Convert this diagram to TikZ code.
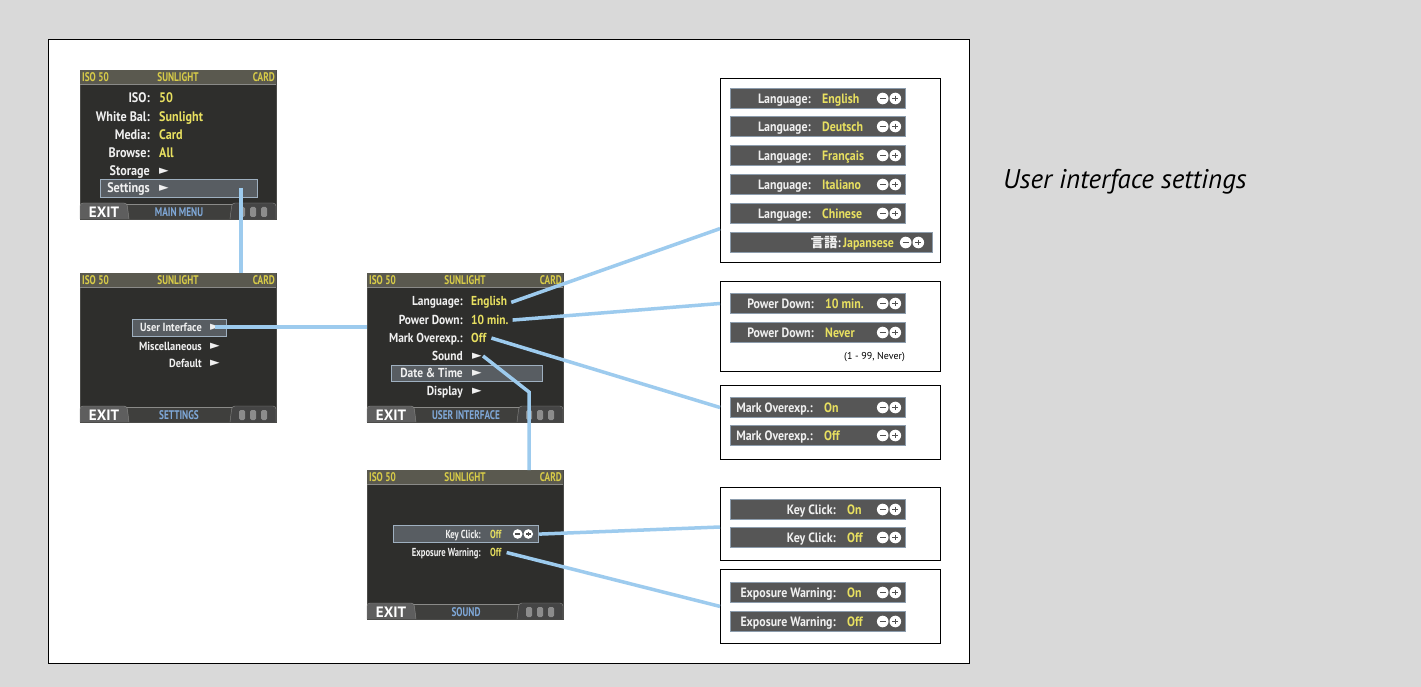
\documentclass[tikz,border=0pt]{standalone}
\usepackage{fontspec}
\setmainfont{PT Sans}
\newfontfamily\lcdfont{PT Sans}[FakeStretch=0.88]
\newfontfamily\lcdnarrow{PT Sans}[FakeStretch=0.74]
\newfontfamily\symfont{DejaVu Sans}
\newfontfamily\cjkfont{Noto Sans CJK JP}
\usetikzlibrary{calc,positioning}

\definecolor{bggray}{HTML}{D9D9D9}
\definecolor{lcddark}{HTML}{2E2E2C}
\definecolor{lcdedge}{HTML}{4A4A48}
\definecolor{topgray}{HTML}{5A594F}
\definecolor{sepgray}{HTML}{8A8A88}
\definecolor{topyellow}{HTML}{D8CC48}
\definecolor{valyellow}{HTML}{E8E060}
\definecolor{lcdwhite}{HTML}{F0F0F0}
\definecolor{footblue}{HTML}{7FA8D8}
\definecolor{tabgray}{HTML}{5E5E5E}
\definecolor{tabdark}{HTML}{454545}
\definecolor{icongray}{HTML}{8C8C8C}
\definecolor{hlfill}{HTML}{585D62}
\definecolor{hlgray}{HTML}{9FB0C0}
\definecolor{rowfill}{HTML}{565656}
\definecolor{rowedge}{HTML}{8C9CAC}
\definecolor{pmdark}{HTML}{505050}
\definecolor{linkblue}{HTML}{9DCBEE}

\newcommand\lcdtext[1]{\lcdfont\bfseries\fontsize{#1}{#1}\selectfont}
\newcommand\lcdsmall[1]{\lcdnarrow\bfseries\fontsize{#1}{#1}\selectfont}

% one camera screen: name, top-left corner, footer text
\newcommand\lcdscreen[3]{%
  \begin{scope}[shift={#2}]
    \node[lcdbody] (#1) at (0,0) {};
    \fill[topbar] (0,0) rectangle (196,14);
    \draw[sepline] (0,14.5) -- (196,14.5);
    \node[toptxt, anchor=west] at (2,7.5) {ISO 50};
    \node[toptxt] at (98,7.5) {SUNLIGHT};
    \node[toptxt, anchor=east] at (195,7.5) {CARD};
    \fill[lcdedge!60!lcddark] (0,134) rectangle (196,149);
    \draw[sepline] (46,134) -- (152,134);
    \filldraw[fill=tabgray, draw=sepgray, rounded corners=3pt] (0,149) -- (0,133) -- (47,133) -- (49,149);
    \node[exittxt] at (24,142) {EXIT};
    \node[foottxt] at (99,142) {#3};
    \filldraw[fill=tabdark, draw=sepgray, rounded corners=3pt] (150,149) -- (152,133) -- (196,133) -- (196,149);
    \foreach \ix in {162,173,184}
      \fill[icongray, rounded corners=1.5pt] (\ix-3,137) rectangle (\ix+3,147);
  \end{scope}}

% the minus / plus buttons: centre x, centre y, radius
\newcommand\minusplus[3]{%
  \fill[white] ({#1-#3-0.5},#2) circle (#3) ({#1+#3+0.5},#2) circle (#3);
  \draw[pmdark, line width=1.5pt]
    ({#1-1.5*#3-0.5},#2) -- ({#1-0.5*#3-0.5},#2)
    ({#1+0.5*#3+0.5},#2) -- ({#1+1.5*#3+0.5},#2)
    ({#1+#3+0.5},{#2-0.5*#3}) -- ({#1+#3+0.5},{#2+0.5*#3});}

% one option row: name, top y, width, label right x, label, value, buttons x
\newcommand\optrow[7]{%
  \node[optrow, minimum width=#3, anchor=north west] (#1) at (730,#2) {};
  \node[lbl] at (#4,{#2+10.5}) {#5};
  \node[val] at ({#4+11},{#2+10.5}) {#6};
  \minusplus{#7}{#2+10.5}{5.8}}

\begin{document}
\begin{tikzpicture}[x=1pt, y=-1pt,
    lcdbody/.style={draw=lcdedge, fill=lcddark, minimum width=196pt, minimum height=149pt, inner sep=0pt, anchor=north west},
    topbar/.style={fill=topgray},
    sepline/.style={draw=sepgray, line width=0.8pt},
    toptxt/.style={font=\lcdsmall{12.5}, text=topyellow, inner sep=0pt},
    foottxt/.style={font=\lcdsmall{12.5}, text=footblue, inner sep=0pt},
    exittxt/.style={font=\bfseries\fontsize{15}{15}\selectfont, text=white, inner sep=0pt},
    lbl/.style={font=\lcdtext{13.5}, text=lcdwhite, inner sep=0pt, anchor=base east, yshift=-4.6pt},
    val/.style={font=\lcdtext{13.5}, text=valyellow, inner sep=0pt, anchor=base west, yshift=-4.6pt},
    arr/.style={font=\symfont\fontsize{12.5}{12.5}\selectfont, text=lcdwhite, inner sep=0pt, anchor=west},
    hl/.style={draw=hlgray, fill=hlfill, line width=1.2pt, inner sep=0pt, anchor=north west},
    optrow/.style={draw=rowedge, fill=rowfill, line width=1pt, minimum height=20pt, inner sep=0pt},
    optbox/.style={draw=black, fill=white, line width=0.8pt, minimum width=220pt, inner sep=0pt, anchor=north west},
    note/.style={font=\fontsize{10}{10}\selectfont, inner sep=0pt},
    title/.style={font=\itshape\fontsize{27}{30}\selectfont, inner sep=0pt, anchor=base west},
    link/.style={draw=linkblue, line width=3.5pt},
  ]
  \fill[bggray] (0,0) rectangle (1421,687);
  \useasboundingbox (0,0) rectangle (1421,687);
  \filldraw[fill=white, draw=black, line width=0.8pt] (48,39) rectangle (969,663);

  % main menu
  \lcdscreen{mm}{(80,70)}{MAIN MENU}
  \begin{scope}[shift={(80,70)}, lbl/.append style={font=\lcdtext{13.8}}, val/.append style={font=\lcdtext{13.8}}]
    \node[hl, minimum width=157pt, minimum height=18pt] (mm-hl) at (20,109) {};
    \foreach \y/\l/\v in {28/ISO:/50, 47/White Bal:/Sunlight, 65/Media:/Card, 83/Browse:/All} {
      \node[lbl] at (70,\y) {\l};
      \node[val] at (79,\y) {\v};
    }
    \node[lbl] at (70,101) {Storage};
    \node[arr] at (79,101) {►};
    \node[lbl] at (70,118) {Settings};
    \node[arr] at (79,118) {►};
    \coordinate (mm-tap) at (161,118);
  \end{scope}

  % settings
  \lcdscreen{set}{(80,273)}{SETTINGS}
  \begin{scope}[shift={(80,273)}, lbl/.append style={font=\lcdtext{11.8}}]
    \node[hl, minimum width=94pt, minimum height=17pt] (set-hl) at (52,46) {};
    \node[lbl] at (122,54) {User Interface};
    \node[arr] (set-ui-arr) at (130,54) {►};
    \node[lbl] at (122,73) {Miscellaneous};
    \node[arr] at (130,73) {►};
    \node[lbl] at (122,90) {Default};
    \node[arr] at (130,90) {►};
  \end{scope}

  % user interface
  \lcdscreen{ui}{(367,273)}{USER INTERFACE}
  \begin{scope}[shift={(367,273)}, lbl/.append style={font=\lcdtext{13}}, val/.append style={font=\lcdtext{13}}]
    \node[hl, minimum width=151pt, minimum height=16pt] (ui-hl) at (24,92) {};
    \node[lbl] at (96,28) {Language:};
    \node[val] (ui-lang) at (104,28) {English};
    \node[lbl] at (96,47) {Power Down:};
    \node[val] (ui-pwr) at (104,47) {10 min.};
    \node[lbl] at (96,65) {Mark Overexp.:};
    \node[val] (ui-mark) at (104,65) {Off};
    \node[lbl] at (96,83) {Sound};
    \node[arr] (ui-sound-arr) at (105,83) {►};
    \node[lbl] at (96,100) {Date \& Time};
    \node[arr] at (105,100) {►};
    \node[lbl] at (96,118) {Display};
    \node[arr] at (105,118) {►};
    \coordinate (snd-tap) at (162,119);
  \end{scope}

  % sound
  \lcdscreen{snd}{(367,470)}{SOUND}
  \begin{scope}[shift={(367,470)}, lbl/.append style={font=\lcdsmall{11.6}}, val/.append style={font=\lcdsmall{11.6}}]
    \node[hl, minimum width=145pt, minimum height=17pt] (snd-hl) at (26,55) {};
    \node[lbl] at (114,64) {Key Click:};
    \node[val] (snd-key) at (123,64) {Off};
    \minusplus{156}{64}{4.8}
    \node[lbl] at (114,82) {Exposure Warning:};
    \node[val] (snd-exp) at (123,82) {Off};
  \end{scope}

  % option panels
  \node[optbox, minimum height=184pt] (langbox) at (720,78) {};
  \node[optbox, minimum height=90pt] (pwrbox) at (720,281) {};
  \node[optbox, minimum height=74pt] (markbox) at (720,385) {};
  \node[optbox, minimum height=73pt] (keybox) at (720,487) {};
  \node[optbox, minimum height=74pt] (expbox) at (720,569) {};

  \optrow{lang1}{88}{175pt}{811}{Language:}{English}{889}
  \optrow{lang2}{116}{175pt}{811}{Language:}{Deutsch}{889}
  \optrow{lang3}{145}{175pt}{811}{Language:}{Français}{889}
  \optrow{lang4}{174}{175pt}{811}{Language:}{Italiano}{889}
  \optrow{lang5}{203}{175pt}{811}{Language:}{Chinese}{889}
  \node[optrow, minimum width=202pt, anchor=north west] (lang6) at (730,232) {};
  \node[lbl] at (841,242.5) {{\cjkfont 言語}:};
  \node[val] at (843,242.5) {Japansese};
  \minusplus{912}{242.5}{5.8}

  \optrow{pwr1}{293}{175pt}{814}{Power Down:}{10 min.}{889}
  \optrow{pwr2}{322}{175pt}{814}{Power Down:}{Never}{889}
  \node[note, anchor=east] (pwr-range) at (905,357) {(1 - 99, Never)};

  \optrow{mark1}{397}{175pt}{813}{Mark Overexp.:}{On}{889}
  \optrow{mark2}{425}{175pt}{813}{Mark Overexp.:}{Off}{889}

  \optrow{key1}{499}{175pt}{836}{Key Click:}{On}{889}
  \optrow{key2}{527}{175pt}{836}{Key Click:}{Off}{889}

  \optrow{exp1}{582}{175pt}{836}{Exposure Warning:}{On}{889}
  \optrow{exp2}{611}{175pt}{836}{Exposure Warning:}{Off}{889}

  \node[title] (title) at (1003,189) {User interface settings};

  % connectors
  \draw[link] (mm-tap) -- (mm-tap |- set.north);
  \draw[link] (set-ui-arr.center) -- (set-ui-arr.center -| ui.west);
  \draw[link] ([xshift=4pt]ui-lang.east) -- ($(langbox.south west)!0.185!(langbox.north west)$);
  \draw[link] ([xshift=4pt]ui-pwr.east) -- (pwrbox.west |- pwr1);
  \draw[link] ([xshift=5pt]ui-mark.east) -- (markbox.west |- mark1);
  \draw[link] ([xshift=1pt]ui-sound-arr.east) -- (snd-tap) -- (snd-tap |- snd.north);
  \draw[link] (snd-hl.east) -- (keybox.west |- key2.north);
  \draw[link] ([xshift=5pt]snd-exp.east) -- (expbox.west);
\end{tikzpicture}
\end{document}
